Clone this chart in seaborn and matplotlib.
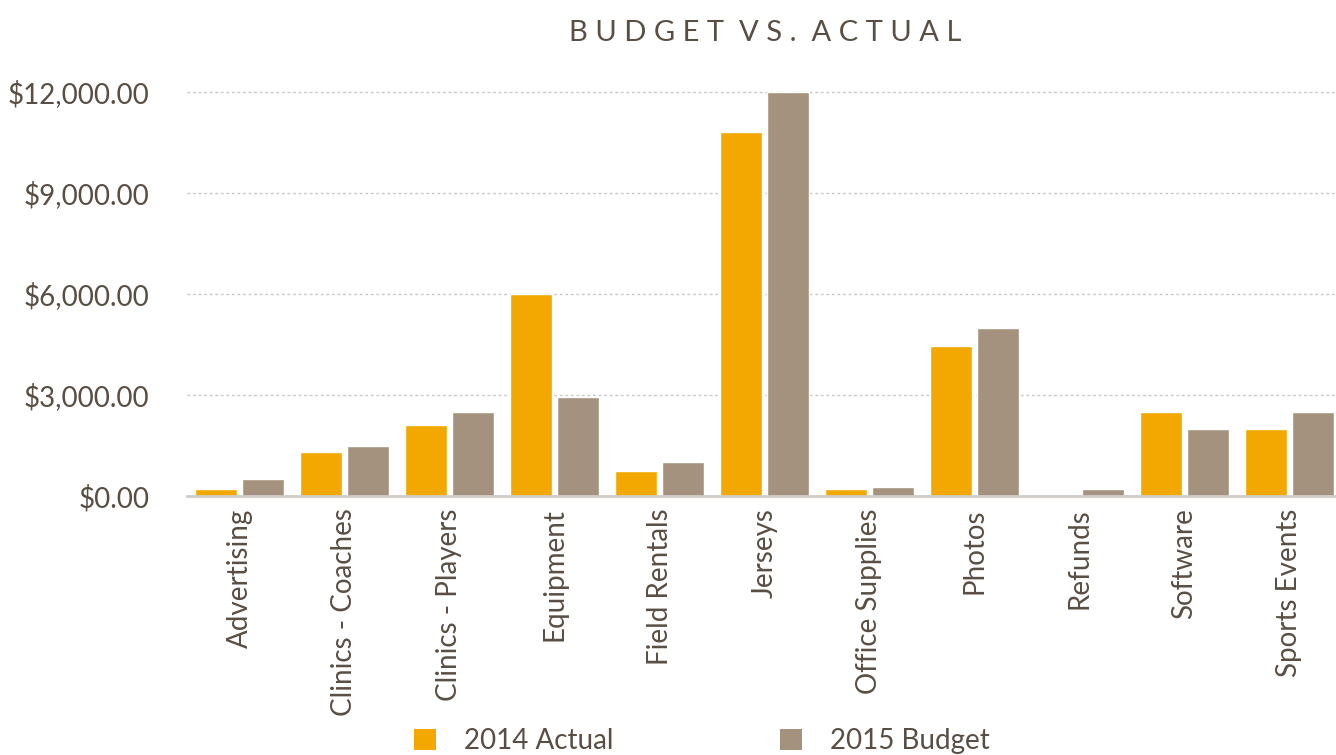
import matplotlib
matplotlib.use("Agg")
import matplotlib.pyplot as plt
import matplotlib.ticker as mticker
from matplotlib.patches import Patch
import seaborn as sns
import pandas as pd

categories = ["Advertising", "Clinics - Coaches", "Clinics - Players", "Equipment",
              "Field Rentals", "Jerseys", "Office Supplies", "Photos", "Refunds",
              "Software", "Sports Events"]
actual_2014 = [200, 1300, 2100, 6000, 750, 10800, 200, 4450, 0, 2500, 2000]
budget_2015 = [500, 1500, 2500, 2950, 1000, 12000, 280, 5000, 200, 2000, 2500]
series_names = ["2014 Actual", "2015 Budget"]
y_ticks = [0, 3000, 6000, 9000, 12000]

df = pd.DataFrame({
    "Category": categories * 2,
    "Amount": actual_2014 + budget_2015,
    "Series": [series_names[0]] * len(categories) + [series_names[1]] * len(categories),
})

ORANGE = "#F2A800"
TAUPE = "#A5927E"
TEXT = "#5A4E43"
FONT = "Lato"

sns.set_theme(style="white")
plt.rcParams["font.family"] = [FONT, "DejaVu Sans"]

W, H = 1336, 755
fig = plt.figure(figsize=(W / 100, H / 100), dpi=100)
ax = fig.add_axes([187 / W, (H - 496) / H, (1342 - 187) / W, 404 / H * 12100 / 12000])

sns.barplot(data=df, x="Category", y="Amount", hue="Series", order=categories,
            hue_order=series_names, palette=[ORANGE, TAUPE], width=0.9, gap=0.1,
            saturation=1, legend=False, ax=ax)

ax.set_xlim(-0.5, 10.5)
ax.set_ylim(0, 12100)
ax.set_yticks(y_ticks)
ax.yaxis.set_major_formatter(mticker.FuncFormatter(lambda v, p: f"${v:,.2f}"))
ax.set_xlabel("")
ax.set_ylabel("")
ax.grid(axis="y", color="#C8C8C8", linestyle=(0, (2, 2)), linewidth=1)
ax.set_axisbelow(True)
for side in ["top", "right", "left"]:
    ax.spines[side].set_visible(False)
ax.spines["bottom"].set_color("#D0CCC8")
ax.spines["bottom"].set_linewidth(2)
ax.tick_params(axis="y", length=0, pad=27, labelsize=20, labelcolor=TEXT)
ax.tick_params(axis="x", length=0, pad=9, labelsize=20, labelcolor=TEXT, rotation=90)

fig.text(765 / W, 1 - 33 / H, "B U D G E T  V S .  A C T U A L", ha="center",
         va="center", fontsize=21, color=TEXT)

handles = [Patch(facecolor=ORANGE, edgecolor="none"), Patch(facecolor=TAUPE, edgecolor="none")]
fig.legend(handles, series_names, loc="center", bbox_to_anchor=(702 / W, 1 - 741 / H),
           ncol=2, frameon=False, fontsize=20, labelcolor=TEXT, columnspacing=6.0,
           handlelength=0.8, handleheight=0.8, handletextpad=1.0)

fig.savefig("out.png", dpi=100)
